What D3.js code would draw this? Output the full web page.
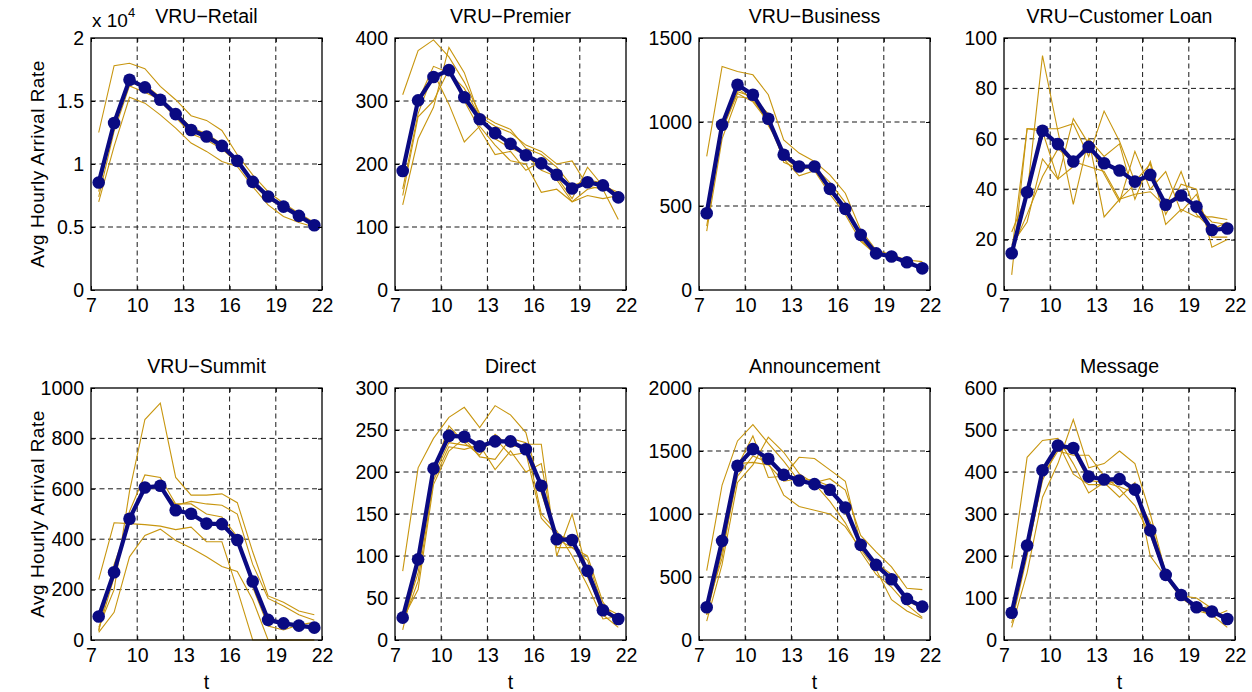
<!DOCTYPE html>
<html>
<head>
<meta charset="utf-8">
<script src="https://cdn.jsdelivr.net/npm/d3@7"></script>
<style>
  html, body { margin: 0; padding: 0; background: #fff; }
  svg { display: block; font-family: "Liberation Sans", Arial, Helvetica, sans-serif; }
</style>
</head>
<body>
<svg id="chart" width="1252" height="692"></svg>
<script>
// ---------- data ----------
const hours = [7.5, 8.5, 9.5, 10.5, 11.5, 12.5, 13.5, 14.5, 15.5, 16.5, 17.5, 18.5, 19.5, 20.5, 21.5];
const xTicks = [7, 10, 13, 16, 19, 22];
const titles = ["VRU\u2212Retail", "VRU\u2212Premier", "VRU\u2212Business", "VRU\u2212Customer Loan",
                "VRU\u2212Summit", "Direct", "Announcement", "Message"];
const yMax = [20000, 400, 1500, 100, 1000, 300, 2000, 600];
const yTicks = [
  [0, 5000, 10000, 15000, 20000],
  [0, 100, 200, 300, 400],
  [0, 500, 1000, 1500],
  [0, 20, 40, 60, 80, 100],
  [0, 200, 400, 600, 800, 1000],
  [0, 50, 100, 150, 200, 250, 300],
  [0, 500, 1000, 1500, 2000],
  [0, 100, 200, 300, 400, 500, 600]
];

// mean arrival rates (thick blue)
const retailMean = [8530, 13250, 16690, 16080, 15100, 13960, 12700, 12180, 11440, 10250, 8580, 7420, 6620, 5880, 5140];
const premierMean = [189, 301, 338, 349, 306, 271, 249, 232, 214, 201, 183, 161, 171, 166, 147];
const businessMean = [457, 983, 1222, 1162, 1019, 805, 735, 735, 602, 483, 328, 218, 199, 165, 129];
const loanMean = [14.6, 38.8, 63.2, 57.9, 51, 56.8, 50.3, 47.4, 43, 45.7, 33.8, 37.5, 33.1, 23.8, 24.4];
const summitMean = [93, 269, 481, 605, 612, 515, 501, 462, 460, 397, 232, 80, 66, 57, 49];
const directMean = [26.6, 96, 204, 243, 242, 230.5, 236.5, 236.5, 227, 183.6, 120, 119, 82.3, 35.4, 25];
const announceMean = [260, 787, 1383, 1515, 1438, 1311, 1266, 1237, 1192, 1052, 755, 596, 482, 326, 265];
const messageMean = [65, 225, 404, 463, 457, 389, 382, 383, 358, 261, 155, 107, 78, 68, 50];

// individual days (thin gold)
const retailDays = [
  [12500, 17800, 18000, 17560, 16160, 15100, 13830, 13460, 12660, 10730, 9140, 7800, 6890, 6090, 5350],
  [7000, 11400, 15300, 14830, 13900, 12850, 11660, 11000, 10200, 9800, 8200, 6750, 5830, 5350, 5000],
  [7800, 13500, 16400, 16300, 15300, 14000, 12600, 12100, 11300, 10300, 8700, 7500, 6700, 5900, 5100],
  [8200, 12900, 16700, 16000, 15000, 13700, 12400, 11900, 11200, 10100, 8500, 7400, 6600, 5850, 5150],
  [7400, 12600, 16200, 15700, 15100, 14100, 12900, 12400, 11600, 10300, 8400, 7250, 6500, 5800, 5200]
];
const premierDays = [
  [310, 380, 397, 370, 330, 280, 265, 255, 225, 215, 195, 165, 175, 170, 150],
  [135, 240, 290, 385, 345, 275, 260, 250, 230, 220, 200, 205, 165, 160, 112],
  [160, 280, 345, 295, 235, 260, 230, 205, 200, 155, 160, 140, 150, 145, 150],
  [190, 300, 355, 345, 320, 275, 240, 225, 215, 190, 180, 145, 195, 165, 155],
  [150, 275, 300, 350, 300, 255, 215, 220, 190, 205, 175, 140, 160, 165, 145]
];
const businessDays = [
  [795, 1331, 1301, 1281, 1162, 894, 815, 765, 685, 576, 358, 238, 209, 179, 169],
  [350, 900, 1150, 1140, 1050, 760, 720, 730, 640, 520, 300, 215, 205, 170, 120],
  [380, 950, 1170, 1120, 1000, 780, 680, 710, 570, 450, 290, 210, 200, 160, 130],
  [420, 960, 1180, 1150, 980, 820, 740, 720, 590, 470, 330, 225, 195, 160, 135],
  [440, 1000, 1200, 1130, 1010, 790, 720, 740, 610, 490, 340, 220, 190, 165, 125]
];
const loanDays = [
  [23, 38, 93, 63, 34, 60, 53, 58, 36, 51, 30, 42, 40, 17, 20],
  [6, 64, 64, 64, 66, 53, 71, 59, 43, 50, 26, 32, 29, 29, 28],
  [15, 64, 63, 44, 49, 60, 29, 36, 38, 39, 33, 47, 30, 24, 27],
  [18, 27, 52, 44, 68, 58, 46, 35, 55, 40, 47, 31, 38, 21, 21],
  [16, 30, 45, 56, 51, 49, 47, 36, 42, 45, 35, 37, 33, 27, 26]
];
const summitDays = [
  [240, 465, 462, 458, 452, 438, 448, 390, 390, 200, 0, 0, 0, 0, 0],
  [30, 110, 330, 415, 440, 395, 365, 330, 292, 272, 160, 0, 0, 0, 0],
  [50, 200, 590, 875, 940, 645, 575, 575, 580, 545, 350, 175, 150, 115, 100],
  [40, 250, 510, 655, 645, 540, 540, 500, 488, 410, 210, 55, 40, 60, 70],
  [35, 300, 470, 600, 610, 535, 550, 540, 535, 500, 300, 165, 135, 100, 78]
];
const directDays = [
  [82, 205, 240, 265, 277, 253, 279, 268, 247, 175, 120, 110, 100, 45, 20],
  [12, 90, 200, 255, 235, 220, 245, 230, 233, 233, 100, 150, 80, 30, 15],
  [20, 70, 190, 230, 227, 232, 203, 225, 200, 210, 110, 110, 95, 40, 30],
  [25, 60, 185, 225, 240, 218, 215, 240, 235, 150, 130, 100, 65, 25, 28],
  [22, 80, 195, 235, 232, 228, 240, 220, 223, 145, 125, 120, 75, 35, 27]
];
const announceDays = [
  [550, 1230, 1580, 1710, 1560, 1420, 1260, 1250, 1280, 1190, 830, 700, 580, 410, 400],
  [150, 600, 1250, 1390, 1610, 1490, 1320, 1240, 1100, 930, 700, 520, 420, 280, 180],
  [200, 700, 1300, 1460, 1410, 1150, 1060, 1030, 1000, 900, 720, 560, 320, 230, 170],
  [250, 650, 1380, 1620, 1290, 1300, 1450, 1440, 1350, 1260, 760, 610, 520, 310, 250],
  [200, 750, 1400, 1410, 1390, 1260, 1280, 1270, 1220, 1010, 750, 590, 470, 330, 260]
];
const messageDays = [
  [170, 435, 475, 480, 420, 350, 375, 340, 375, 200, 150, 105, 100, 75, 40],
  [30, 160, 340, 420, 525, 410, 420, 450, 420, 300, 160, 110, 80, 55, 70],
  [40, 200, 390, 450, 440, 440, 390, 360, 320, 250, 150, 100, 75, 80, 45],
  [60, 220, 400, 470, 395, 370, 370, 380, 360, 270, 155, 110, 70, 60, 30],
  [50, 210, 380, 460, 450, 380, 375, 365, 350, 280, 160, 108, 75, 70, 55]
];

const means = [retailMean, premierMean, businessMean, loanMean, summitMean, directMean, announceMean, messageMean];
const days = [retailDays, premierDays, businessDays, loanDays, summitDays, directDays, announceDays, messageDays];

// ---------- layout ----------
const lefts = [91, 395, 699, 1004];
const tops = [38, 388];
const pw = 231, ph = 252;
const gold = "#C8960F";
const navy = "#0A0A82";

const svg = d3.select("#chart");

titles.forEach((title, i) => {
  const col = i % 4, row = Math.floor(i / 4);
  const g = svg.append("g").attr("transform", `translate(${lefts[col]},${tops[row]})`);
  const x = d3.scaleLinear().domain([7, 22]).range([0, pw]);
  const y = d3.scaleLinear().domain([0, yMax[i]]).range([ph, 0]);

  // grid
  const grid = g.append("g").attr("stroke", "#000").attr("stroke-width", 1)
    .attr("stroke-dasharray", "5,3.5").attr("opacity", 0.9);
  xTicks.slice(1, -1).forEach(t => {
    grid.append("line").attr("x1", x(t)).attr("x2", x(t)).attr("y1", 0).attr("y2", ph);
  });
  yTicks[i].slice(1, -1).forEach(t => {
    grid.append("line").attr("x1", 0).attr("x2", pw).attr("y1", y(t)).attr("y2", y(t));
  });

  // day lines
  const line = d3.line().x((d, k) => x(hours[k])).y(d => y(d));
  g.append("g").selectAll("path").data(days[i]).join("path")
    .attr("d", d => line(d))
    .attr("fill", "none").attr("stroke", gold).attr("stroke-width", 1.1)
    .attr("stroke-linejoin", "miter");

  // mean line
  g.append("path").attr("d", line(means[i]))
    .attr("fill", "none").attr("stroke", navy).attr("stroke-width", 4.2)
    .attr("stroke-linejoin", "round");
  g.append("g").selectAll("circle").data(means[i]).join("circle")
    .attr("cx", (d, k) => x(hours[k])).attr("cy", d => y(d)).attr("r", 6.3)
    .attr("fill", navy);

  // axes (MATLAB style: inward ticks, box)
  const fmt = i === 0 ? (v => d3.format("~g")(v / 10000)) : (v => String(v));
  const ax = d3.axisBottom(x).tickValues(xTicks).tickSizeInner(-4).tickSizeOuter(0).tickPadding(8);
  const gx = g.append("g").attr("transform", `translate(0,${ph})`).call(ax);
  const ay = d3.axisLeft(y).tickValues(yTicks[i]).tickFormat(fmt).tickSizeInner(-4).tickSizeOuter(0).tickPadding(7);
  const gy = g.append("g").call(ay);
  // top & right ticks
  const axT = d3.axisTop(x).tickValues(xTicks).tickSizeInner(-4).tickSizeOuter(0).tickFormat("");
  g.append("g").call(axT);
  const ayR = d3.axisRight(y).tickValues(yTicks[i]).tickSizeInner(-4).tickSizeOuter(0).tickFormat("");
  g.append("g").attr("transform", `translate(${pw},0)`).call(ayR);
  g.selectAll(".domain").remove();
  g.selectAll(".tick line").attr("stroke", "#000");
  [gx, gy].forEach(a => a.selectAll("text").attr("font-size", 19.5).attr("fill", "#000")
    .attr("font-family", "'Liberation Sans', Arial, sans-serif"));
  gx.selectAll("text").attr("dy", "0.71em");

  g.append("rect").attr("x", 0).attr("y", 0).attr("width", pw).attr("height", ph)
    .attr("fill", "none").attr("stroke", "#000").attr("stroke-width", 1.3);

  // title
  g.append("text").attr("x", pw / 2).attr("y", -15).attr("text-anchor", "middle")
    .attr("font-size", 19.5).attr("fill", "#000").text(title);

  if (col === 0) {
    g.append("text").attr("transform", `translate(${38 - lefts[0] + 6},${ph / 2}) rotate(-90)`)
      .attr("text-anchor", "middle").attr("font-size", 19).attr("letter-spacing", 0.5)
      .attr("fill", "#000").text("Avg Hourly Arrival Rate");
  }
  if (row === 1) {
    g.append("text").attr("x", pw / 2).attr("y", ph + 49).attr("text-anchor", "middle")
      .attr("font-size", 19.5).attr("fill", "#000").text("t");
  }
  if (i === 0) {
    const m = g.append("text").attr("x", 1).attr("y", -11).attr("font-size", 19).attr("fill", "#000");
    m.append("tspan").text("x 10");
    m.append("tspan").attr("dy", -10).attr("font-size", 13).text("4");
  }
});
</script>
</body>
</html>
